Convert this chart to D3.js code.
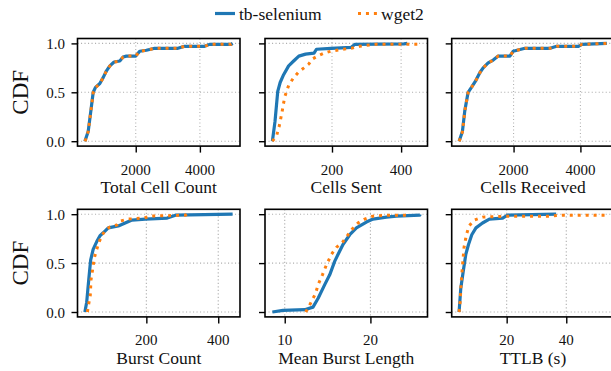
<!DOCTYPE html>
<html>
<head>
<meta charset="utf-8">
<script src="https://cdn.jsdelivr.net/npm/d3@7"></script>
</head>
<body style="margin:0">
<svg id="chart" width="611" height="371"></svg>
<script>
// CDF points: [value, cdf]
const totalTb = [[415,0.0],[518,0.10],[601,0.31],[674,0.50],[746,0.55],[881,0.59],[984,0.65],[1088,0.72],[1192,0.77],[1326,0.81],[1503,0.82],[1606,0.86],[1710,0.87],[2000,0.87],[2124,0.92],[2332,0.93],[2591,0.95],[3316,0.95],[3523,0.97],[4145,0.97],[4300,0.99],[4974,0.99],[5020,1.0]]
const totalWg = [[420,0.0],[520,0.10],[603,0.31],[676,0.50],[748,0.55],[883,0.59],[986,0.65],[1090,0.72],[1194,0.77],[1328,0.81],[1505,0.82],[1608,0.86],[1712,0.87],[2000,0.87],[2126,0.92],[2334,0.93],[2593,0.95],[3318,0.95],[3525,0.97],[4147,0.97],[4302,0.99],[4976,0.99],[5010,1.0]]

const sentTb = [[27.5,0.0],[35,0.2],[43,0.51],[50,0.60],[60,0.68],[74.5,0.77],[89,0.82],[104,0.87],[123.5,0.89],[148,0.90],[155,0.94],[197,0.95],[256,0.96],[266,0.99],[408,0.995],[418,1.0]]
const sentWg = [[27.5,0.0],[40,0.06],[47,0.15],[55,0.29],[63,0.45],[74.5,0.57],[89,0.65],[104,0.71],[119,0.75],[133,0.79],[143,0.84],[158,0.87],[177,0.90],[197,0.92],[231,0.94],[256,0.95],[280,0.97],[300,0.98],[329,0.99],[447,0.99],[455,1.0]]

const recvTb = [[370,0.0],[470,0.10],[540,0.31],[640,0.50],[740,0.55],[870,0.62],[990,0.70],[1090,0.75],[1240,0.80],[1390,0.83],[1540,0.87],[1890,0.87],[1990,0.92],[2340,0.95],[3090,0.95],[3290,0.97],[3940,0.97],[4040,0.99],[4790,1.0]]
const recvWg = [[375,0.0],[472,0.10],[542,0.31],[642,0.50],[742,0.55],[872,0.62],[992,0.70],[1092,0.75],[1242,0.80],[1392,0.83],[1542,0.87],[1892,0.87],[1992,0.92],[2342,0.95],[3092,0.95],[3292,0.97],[3942,0.97],[4042,0.99],[4780,1.0]]

const burstTb = [[29,0.0],[34,0.10],[40,0.34],[45,0.53],[52,0.64],[62,0.72],[71,0.78],[80,0.81],[94,0.86],[122,0.88],[141,0.91],[160,0.94],[197,0.95],[258,0.96],[281,0.99],[440,1.0]]
const burstWg = [[36,0.0],[40,0.09],[44,0.17],[46,0.33],[49.5,0.41],[55,0.55],[62,0.64],[68,0.71],[76,0.78],[85,0.83],[99,0.87],[118,0.89],[127,0.93],[150,0.95],[193,0.96],[211,0.98],[309,0.99],[312,1.0]]

const meanTb = [[8.56,0.0],[9.8,0.017],[12.33,0.024],[13.3,0.05],[13.9,0.14],[14.67,0.28],[15.25,0.38],[15.84,0.52],[16.23,0.59],[16.8,0.69],[17.59,0.79],[18.37,0.86],[19.53,0.92],[20.3,0.95],[21.87,0.97],[23.04,0.98],[25.76,0.99],[25.8,1.0]]
const meanWg = [[12.45,0.0],[12.9,0.07],[13.6,0.19],[13.9,0.28],[14.4,0.38],[14.86,0.48],[15.45,0.59],[16.03,0.66],[16.8,0.72],[17.4,0.79],[17.78,0.84],[18.56,0.91],[19.34,0.95],[20.3,0.98],[22.26,0.99],[24.2,0.99],[24.5,1.0]]

const ttlbTb = [[4.04,0.0],[4.6,0.24],[5.4,0.41],[6.3,0.59],[7.2,0.69],[8.3,0.79],[9.7,0.86],[11.9,0.91],[14.2,0.95],[18.65,0.96],[20.3,0.99],[36.6,1.0]]
const ttlbWg = [[4.04,0.0],[4.4,0.10],[4.7,0.28],[5.2,0.48],[5.7,0.66],[6.5,0.79],[7.4,0.88],[9.1,0.94],[11.9,0.97],[20.9,0.98],[34.4,0.98],[38.9,0.99],[53.5,0.99],[53.6,1.0]]

const xLabels = ['Total Cell Count', 'Cells Sent', 'Cells Received', 'Burst Count', 'Mean Burst Length', 'TTLB (s)']
const xTicks = [[2000,4000],[200,400],[2000,4000],[200,400],[10,20],[20,40]]
const yTicks = [0, 0.5, 1.0]
const seriesNames = ['tb-selenium', 'wget2']

const tbData = [totalTb, sentTb, recvTb, burstTb, meanTb, ttlbTb]
const wgData = [totalWg, sentWg, recvWg, burstWg, meanWg, ttlbWg]

const blue = '#1f77b4', orange = '#ff7f0e'
const serif = 'Liberation Serif'

const svg = d3.select('#chart')
svg.append('rect').attr('width', 611).attr('height', 371).attr('fill', '#fff')

const colLeft = [77.5, 265, 451.7]
const rowTop = [38.5, 209.3]
const pw = 162.5, ph = 107.6

// plain text helper, family set on the element itself
const addText = (parent, str, size) => parent.append('text')
	.attr('fill', '#111')
	.attr('font-family', serif)
	.attr('font-size', size)
	.text(str)

xLabels.forEach((label, i) => {
	const col = i % 3, row = Math.floor(i / 3)
	const left = colLeft[col], top = rowTop[row]
	const tb = tbData[i], wg = wgData[i]

	// matplotlib-like 5% margins
	const ext = d3.extent(tb.concat(wg), d => d[0])
	const pad = (ext[1] - ext[0]) * 0.05
	const x = d3.scaleLinear().domain([ext[0] - pad, ext[1] + pad]).range([0, pw])
	const y = d3.scaleLinear().domain([-0.05, 1.05]).range([ph, 0])

	const g = svg.append('g').attr('transform', `translate(${left},${top})`)

	g.append('clipPath').attr('id', 'clip' + i)
		.append('rect').attr('width', pw).attr('height', ph)

	// grid
	g.selectAll('.vgrid').data(xTicks[i]).join('line')
		.attr('x1', d => x(d)).attr('x2', d => x(d))
		.attr('y1', 0).attr('y2', ph)
		.attr('stroke', '#b0b0b0').attr('stroke-width', 1.1)
		.attr('stroke-dasharray', '1.1,2.4')
	g.selectAll('.hgrid').data(yTicks).join('line')
		.attr('x1', 0).attr('x2', pw)
		.attr('y1', d => y(d)).attr('y2', d => y(d))
		.attr('stroke', '#b0b0b0').attr('stroke-width', 1.1)
		.attr('stroke-dasharray', '1.1,2.4')

	const line = d3.line().x(d => x(d[0])).y(d => y(d[1]))

	g.append('path').datum(tb)
		.attr('d', line)
		.attr('fill', 'none')
		.attr('stroke', blue)
		.attr('stroke-width', 3.2)
		.attr('stroke-linejoin', 'round')
		.attr('clip-path', `url(#clip${i})`)

	g.append('path').datum(wg)
		.attr('d', line)
		.attr('fill', 'none')
		.attr('stroke', orange)
		.attr('stroke-width', 3)
		.attr('stroke-dasharray', '3,4.95')
		.attr('clip-path', `url(#clip${i})`)

	// axes: d3 draws ticks, labels are drawn by hand so the font sticks
	const xAxis = g.append('g').attr('transform', `translate(0,${ph})`)
		.call(d3.axisBottom(x).tickValues(xTicks[i]).tickSize(6.5).tickFormat(''))
	const yAxis = g.append('g')
		.call(d3.axisLeft(y).tickValues(yTicks).tickSize(6).tickFormat(''))
	;[xAxis, yAxis].forEach(a => {
		a.select('.domain').remove()
		a.selectAll('line').attr('stroke', '#000').attr('stroke-width', 1.4)
		a.selectAll('text').remove()
	})

	xTicks[i].forEach(t => {
		addText(g, d3.format('d')(t), 15)
			.attr('x', x(t)).attr('y', ph + 28.5)
			.attr('text-anchor', 'middle')
	})
	if (col === 0) {
		yTicks.forEach(t => {
			addText(g, d3.format('.1f')(t), 15)
				.attr('x', -12.5).attr('y', y(t) + 5.5)
				.attr('text-anchor', 'end')
		})
		addText(g, 'CDF', 23)
			.attr('transform', `translate(${-58},${ph / 2}) rotate(-90)`)
			.attr('text-anchor', 'middle')
			.attr('dy', 8)
	}

	// frame
	g.append('rect').attr('width', pw).attr('height', ph)
		.attr('fill', 'none').attr('stroke', '#000').attr('stroke-width', 1.6)

	addText(g, label, 17.5)
		.attr('x', pw / 2).attr('y', ph + 47)
		.attr('text-anchor', 'middle')
})

// legend
const legend = svg.append('g')
legend.append('line').attr('x1', 215).attr('x2', 235).attr('y1', 13.5).attr('y2', 13.5)
	.attr('stroke', blue).attr('stroke-width', 3.2)
addText(legend, seriesNames[0], 17.5).attr('x', 239).attr('y', 19.5)
legend.append('line').attr('x1', 358).attr('x2', 378).attr('y1', 13.5).attr('y2', 13.5)
	.attr('stroke', orange).attr('stroke-width', 3).attr('stroke-dasharray', '3,4.95')
addText(legend, seriesNames[1], 17.5).attr('x', 381).attr('y', 19.5)
</script>
</body>
</html>
